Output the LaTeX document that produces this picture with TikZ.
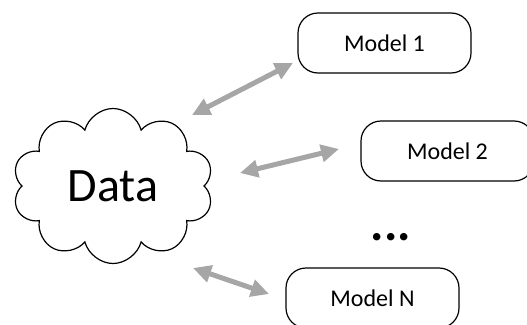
\documentclass[tikz,border=0pt]{standalone}
\usepackage{fontspec}
\setmainfont{Carlito}
\usetikzlibrary{shapes.symbols,arrows.meta}
\tikzset{
  modelbox/.style={draw, line width=1.2pt, rounded corners=20pt, minimum width=173pt, minimum height=60pt, font=\fontsize{24}{28}\selectfont},
  datacloud/.style={cloud, draw, line width=1.2pt, cloud puffs=10, cloud ignores aspect, minimum width=201pt, minimum height=155pt, inner sep=0pt, font=\fontsize{48}{56}\selectfont},
  linkarrow/.style={draw=black!35, line width=5pt, {Triangle[width=17pt,length=18pt]}-{Triangle[width=17pt,length=18pt]}}
}
\begin{document}
\begin{tikzpicture}[x=1pt,y=-1pt]
        \useasboundingbox (0,0) rectangle (527,324);
        % data source
        \node[datacloud] (data) at (113,186) {Data};
        % models
        \node[modelbox] (m1) at (384.5,43) {Model 1};
        \node[modelbox] (m2) at (447.5,151) {Model 2};
        \node[modelbox] (mn) at (372.5,298) {Model N};
        \node[anchor=base, font=\fontsize{50}{60}\selectfont\bfseries] (dots) at (391,240) {...};
        % arrow ends
        \coordinate (a1) at (192,115);
        \coordinate (b1) at (293,63);
        \coordinate (a2) at (240,173);
        \coordinate (b2) at (339,149);
        \coordinate (an) at (193,268);
        \coordinate (bn) at (269,294);
        \foreach \p in {1, 2, n}{
                \draw[linkarrow] (a\p) -- (b\p);
            }
    \end{tikzpicture}
\end{document}
